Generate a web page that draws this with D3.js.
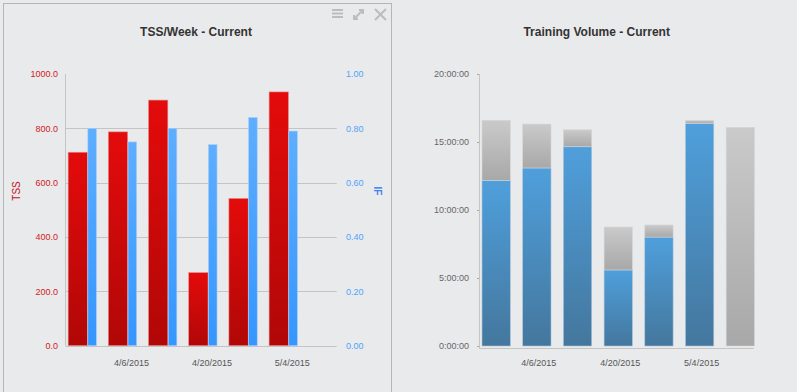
<!DOCTYPE html>
<html>
<head>
<meta charset="utf-8">
<script src="https://cdn.jsdelivr.net/npm/d3@7"></script>
<style>
  body { margin: 0; background: #e9eaec; }
  svg { display: block; font-family: "Liberation Sans", Arial, sans-serif; }
</style>
</head>
<body>
<svg id="chart" width="797" height="392"></svg>
<script>
// weeks (Monday start)
var weeks = ["2015-03-30", "2015-04-06", "2015-04-13", "2015-04-20", "2015-04-27", "2015-05-04", "2015-05-11"];
var tickDates = ["2015-04-06", "2015-04-20", "2015-05-04"];

// TSS/Week chart
var tss = [712, 787, 904, 269, 542, 934, null];
var ifValues = [0.80, 0.75, 0.80, 0.74, 0.84, 0.79, null];
var tssTicks = [0, 200, 400, 600, 800, 1000];
var ifTicks = [0, 0.2, 0.4, 0.6, 0.8, 1.0];

// Training volume chart (hours)
var completedHours = [12.18, 13.09, 14.65, 5.59, 8.01, 16.37, 0];
var remainingHours = [4.42, 3.23, 1.25, 3.16, 0.89, 0.23, 16.08];
var volumeTicks = [0, 5, 10, 15, 20];

var parse = d3.timeParse("%Y-%m-%d");
var fmt = d3.timeFormat("%-m/%-d/%Y");
var DAY = 864e5;

var svg = d3.select("#chart");
var defs = svg.append("defs");

function gradient(id, top, bottom) {
  var g = defs.append("linearGradient").attr("id", id)
    .attr("x1", 0).attr("y1", 0).attr("x2", 0).attr("y2", 1);
  g.append("stop").attr("offset", "0%").attr("stop-color", top);
  g.append("stop").attr("offset", "100%").attr("stop-color", bottom);
}
gradient("gRed", "#e40b0b", "#b10707");
gradient("gLightBlue", "#5eaeff", "#3596ff");
gradient("gBlue", "#4f9fdc", "#44779d");
gradient("gGray", "#cacaca", "#a8a8a8");

var domain = [new Date(+parse(weeks[0]) - 2.9 * DAY), new Date(+parse(weeks[6]) + 2.3 * DAY)];

// ---------- left panel ----------
svg.append("rect")
  .attr("x", 3.5).attr("y", 3.5).attr("width", 388).attr("height", 400)
  .attr("fill", "none").attr("stroke", "#b6b6b6");

// menu icons
var icons = svg.append("g").attr("fill", "#bdbdbd").attr("stroke", "#bdbdbd");
[10, 13.5, 17].forEach(function (y) {
  icons.append("rect").attr("x", 332).attr("y", y - 1).attr("width", 11).attr("height", 2).attr("stroke", "none");
});
icons.append("path").attr("d", "M354,19 L363,10 M359,10 L363,10 L363,14 M354,15 L354,19 L358,19").attr("fill", "none").attr("stroke-width", 2);
icons.append("path").attr("d", "M375,9 L386,20 M386,9 L375,20").attr("fill", "none").attr("stroke-width", 2);

svg.append("text").attr("x", 196).attr("y", 36).attr("text-anchor", "middle")
  .attr("font-size", 12).attr("font-weight", "bold").attr("fill", "#333")
  .text("TSS/Week - Current");

var xL = d3.scaleTime().domain(domain).range([65.7, 336.7]);
var yTss = d3.scaleLinear().domain([0, 1000]).range([345.7, 74]);
var yIf = d3.scaleLinear().domain([0, 1]).range([345.7, 74]);

// gridlines
svg.append("g").selectAll("line").data(tssTicks.filter(function (t) { return t > 0 && t < 1000; }))
  .join("line")
  .attr("x1", 65.7).attr("x2", 336.7)
  .attr("y1", function (d) { return Math.round(yTss(d)) + 0.5; })
  .attr("y2", function (d) { return Math.round(yTss(d)) + 0.5; })
  .attr("stroke", "#c4c4c4");

var leftData = weeks.map(function (w, i) { return { date: parse(w), tss: tss[i], iff: ifValues[i] }; });

svg.append("g").selectAll("rect").data(leftData.filter(function (d) { return d.tss != null; }))
  .join("rect")
  .attr("x", function (d) { return xL(d.date) - 14.2; })
  .attr("width", 19.3)
  .attr("y", function (d) { return yTss(d.tss); })
  .attr("height", function (d) { return yTss(0) - yTss(d.tss); })
  .attr("fill", "url(#gRed)").attr("stroke", "#e68a8a").attr("stroke-width", 0.6);

svg.append("g").selectAll("rect").data(leftData.filter(function (d) { return d.iff != null; }))
  .join("rect")
  .attr("x", function (d) { return xL(d.date) + 5.5; })
  .attr("width", 8.6)
  .attr("y", function (d) { return yIf(d.iff); })
  .attr("height", function (d) { return yIf(0) - yIf(d.iff); })
  .attr("fill", "url(#gLightBlue)").attr("stroke", "#a9cff5").attr("stroke-width", 0.6);

// axes lines
svg.append("line").attr("x1", 65.5).attr("x2", 65.5).attr("y1", 74).attr("y2", 346).attr("stroke", "#c4c4c4");
svg.append("line").attr("x1", 65.7).attr("x2", 336.7).attr("y1", 346.5).attr("y2", 346.5).attr("stroke", "#c4c4c4");

var axTss = svg.append("g").attr("transform", "translate(58,0)")
  .call(d3.axisLeft(yTss).tickValues(tssTicks).tickSize(0).tickPadding(0).tickFormat(d3.format(".1f")));
axTss.select(".domain").remove();
axTss.selectAll("text").attr("fill", "#d11a1a").attr("font-size", 9).attr("font-family", null);

var axIf = svg.append("g").attr("transform", "translate(346,0)")
  .call(d3.axisRight(yIf).tickValues(ifTicks).tickSize(0).tickPadding(0).tickFormat(d3.format(".2f")));
axIf.select(".domain").remove();
axIf.selectAll("text").attr("fill", "#4ea4fb").attr("font-size", 9).attr("font-family", null);

var axXL = svg.append("g").attr("transform", "translate(0,346)")
  .call(d3.axisBottom(xL).tickValues(tickDates.map(parse)).tickSize(0).tickPadding(14).tickFormat(fmt));
axXL.select(".domain").remove();
axXL.selectAll("text").attr("fill", "#555").attr("font-size", 9).attr("font-family", null).attr("dx", 8.5);

svg.append("text").attr("transform", "translate(19.5,191) rotate(-90)").attr("text-anchor", "middle")
  .attr("font-size", 10).attr("fill", "#c4101c").text("TSS");
svg.append("text").attr("transform", "translate(373.5,191) rotate(90)").attr("text-anchor", "middle")
  .attr("font-size", 10).attr("font-weight", "bold").attr("fill", "#3f83f0").text("IF");

// ---------- right panel ----------
svg.append("text").attr("x", 596.7).attr("y", 36).attr("text-anchor", "middle")
  .attr("font-size", 12).attr("font-weight", "bold").attr("fill", "#333")
  .text("Training Volume - Current");

var xR = d3.scaleTime().domain(domain).range([479.3, 753.7]);
var yVol = d3.scaleLinear().domain([0, 20]).range([346, 74]);

var rightData = weeks.map(function (w, i) {
  return { date: parse(w), done: completedHours[i], rest: remainingHours[i] };
});

var bars = svg.append("g").selectAll("g").data(rightData).join("g");
bars.filter(function (d) { return d.done > 0; }).append("rect")
  .attr("x", function (d) { return xR(d.date) - 14.15; })
  .attr("width", 28.3)
  .attr("y", function (d) { return yVol(d.done); })
  .attr("height", function (d) { return yVol(0) - yVol(d.done); })
  .attr("fill", "url(#gBlue)").attr("stroke", "#a8c4dc").attr("stroke-width", 0.6);
bars.filter(function (d) { return d.rest > 0; }).append("rect")
  .attr("x", function (d) { return xR(d.date) - 14.15; })
  .attr("width", 28.3)
  .attr("y", function (d) { return yVol(d.done + d.rest); })
  .attr("height", function (d) { return yVol(d.done) - yVol(d.done + d.rest); })
  .attr("fill", "url(#gGray)").attr("stroke", "#d6d6d6").attr("stroke-width", 0.6);

svg.append("line").attr("x1", 479.5).attr("x2", 479.5).attr("y1", 74).attr("y2", 348).attr("stroke", "#c4c4c4");
svg.append("line").attr("x1", 479.3).attr("x2", 753.7).attr("y1", 348.5).attr("y2", 348.5).attr("stroke", "#c4c4c4");

var axVol = svg.append("g").attr("transform", "translate(479,0)")
  .call(d3.axisLeft(yVol).tickValues(volumeTicks).tickSize(2).tickPadding(8)
    .tickFormat(function (h) { return h + ":00:00"; }));
axVol.select(".domain").remove();
axVol.selectAll("line").attr("stroke", "#aaa");
axVol.selectAll("text").attr("fill", "#666").attr("font-size", 9).attr("font-family", null);

var axXR = svg.append("g").attr("transform", "translate(0,346)")
  .call(d3.axisBottom(xR).tickValues(tickDates.map(parse)).tickSize(0).tickPadding(14).tickFormat(fmt));
axXR.select(".domain").remove();
axXR.selectAll("text").attr("fill", "#555").attr("font-size", 9).attr("font-family", null).attr("dx", 1.5);
</script>
</body>
</html>
